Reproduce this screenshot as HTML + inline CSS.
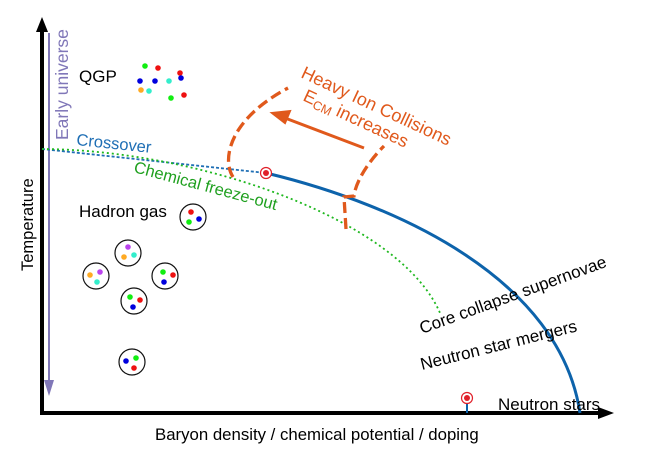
<!DOCTYPE html><html><head><style>body{margin:0;background:#fff}svg{display:block}text{font-family:"Liberation Sans",sans-serif}</style></head><body>
<svg width="652" height="452" viewBox="0 0 652 452">
<!-- axes -->
<line x1="42" y1="414" x2="42" y2="28" stroke="#000" stroke-width="4"/>
<path d="M42,17 L36,32 L48,32 z" fill="#000"/>
<line x1="40" y1="413" x2="600" y2="413" stroke="#000" stroke-width="4"/>
<path d="M614,413 L598,407 L598,419 z" fill="#000"/>
<!-- early universe -->
<line x1="49" y1="33" x2="49" y2="385" stroke="#8077b8" stroke-width="2"/>
<path d="M49,396 L44,380 L54,380 z" fill="#8077b8"/>
<text transform="translate(68,140) rotate(-90)" font-size="17.5" fill="#8077b8">Early universe</text>
<text transform="translate(33,271) rotate(-90)" font-size="16.5" fill="#000">Temperature</text>
<text x="155" y="440" font-size="16.8">Baryon density / chemical potential / doping</text>
<!-- lines -->
<path d="M42,149 L266,173" stroke="#1f6fb5" stroke-width="1.8" stroke-dasharray="3,2" fill="none"/>
<path d="M266,173 C400,205 560,280 580,413" stroke="#0d63ab" stroke-width="3" fill="none"/>
<path d="M42,149 C200,150 400,220 440,313" stroke="#1fb81f" stroke-width="1.8" stroke-dasharray="2,3" fill="none"/>
<!-- orange -->
<path d="M233,177 C222,160 228,120 288,88" stroke="#e0591c" stroke-width="3.3" stroke-dasharray="11,5" fill="none"/>
<path d="M346,229 L344,197 L354,196 C356,180 370,160 384,146" stroke="#e0591c" stroke-width="3.3" stroke-dasharray="11,5" fill="none"/>
<line x1="364" y1="148" x2="285" y2="118" stroke="#e0591c" stroke-width="3"/>
<path d="M272,113 L290,111 L285,123 z" fill="#e0591c" stroke="#e0591c" stroke-width="2"/>
<text transform="translate(300,77) rotate(25)" font-size="18" fill="#e0591c">Heavy Ion Collisions</text>
<text transform="translate(302,100) rotate(25)" font-size="18" fill="#e0591c">E<tspan font-size="12.5" dy="3">CM</tspan><tspan dy="-3"> increases</tspan></text>
<!-- labels -->
<text transform="translate(76,145) rotate(6)" font-size="16.5" fill="#1f6fb5">Crossover</text>
<text transform="translate(133,172) rotate(15)" font-size="16.5" fill="#1fa01f">Chemical freeze-out</text>
<text transform="translate(422,334) rotate(-20)" font-size="17">Core collapse supernovae</text>
<text transform="translate(422,370) rotate(-14)" font-size="17">Neutron star mergers</text>
<text x="498" y="410" font-size="17">Neutron stars</text>
<text x="79" y="82" font-size="17">QGP</text>
<text x="79" y="217" font-size="17">Hadron gas</text>
<!-- markers -->
<circle cx="266" cy="173" r="5.5" fill="#fff" stroke="#e0202a" stroke-width="1.2"/><circle cx="266" cy="173" r="3" fill="#e0202a"/>
<line x1="467" y1="402" x2="467" y2="413" stroke="#0d63ab" stroke-width="2"/>
<circle cx="467" cy="398" r="5.5" fill="#fff" stroke="#e0202a" stroke-width="1.2"/><circle cx="467" cy="398" r="3" fill="#e0202a"/>
<!-- QGP dots -->
<g>
<circle cx="145" cy="66" r="2.8" fill="#1e1"/><circle cx="158" cy="68" r="2.8" fill="#e11"/><circle cx="180" cy="73" r="2.8" fill="#e11"/>
<circle cx="140" cy="81" r="2.8" fill="#00d"/><circle cx="155" cy="81" r="2.8" fill="#00d"/><circle cx="169" cy="81" r="2.8" fill="#3ec"/><circle cx="181" cy="78" r="2.8" fill="#00d"/>
<circle cx="141" cy="90" r="2.8" fill="#fa2"/><circle cx="149" cy="91" r="2.8" fill="#3ec"/><circle cx="171" cy="98" r="2.8" fill="#1e1"/><circle cx="184" cy="95" r="2.8" fill="#e11"/>
</g>
<!-- hadrons -->
<g stroke="#111" stroke-width="1.2" fill="none">
<circle cx="193" cy="217" r="13"/><circle cx="128" cy="253" r="13"/><circle cx="96" cy="276" r="13"/><circle cx="165" cy="276" r="13"/><circle cx="134" cy="301" r="13"/><circle cx="132" cy="362" r="13"/>
</g>
<g>
<circle cx="191" cy="212" r="2.8" fill="#e11"/><circle cx="199" cy="219" r="2.8" fill="#00d"/><circle cx="189" cy="222" r="2.8" fill="#1e1"/>
<circle cx="128" cy="247" r="2.8" fill="#b4e"/><circle cx="124" cy="257" r="2.8" fill="#fa2"/><circle cx="134" cy="255" r="2.8" fill="#3ec"/>
<circle cx="90" cy="275" r="2.8" fill="#fa2"/><circle cx="100" cy="272" r="2.8" fill="#b4e"/><circle cx="97" cy="282" r="2.8" fill="#3ec"/>
<circle cx="163" cy="272" r="2.8" fill="#1e1"/><circle cx="173" cy="275" r="2.8" fill="#e11"/><circle cx="164" cy="282" r="2.8" fill="#00d"/>
<circle cx="130" cy="297" r="2.8" fill="#1e1"/><circle cx="140" cy="300" r="2.8" fill="#e11"/><circle cx="133" cy="307" r="2.8" fill="#00d"/>
<circle cx="126" cy="361" r="2.8" fill="#00d"/><circle cx="136" cy="358" r="2.8" fill="#1e1"/><circle cx="134" cy="368" r="2.8" fill="#e11"/>
</g>
</svg>
</body></html>
